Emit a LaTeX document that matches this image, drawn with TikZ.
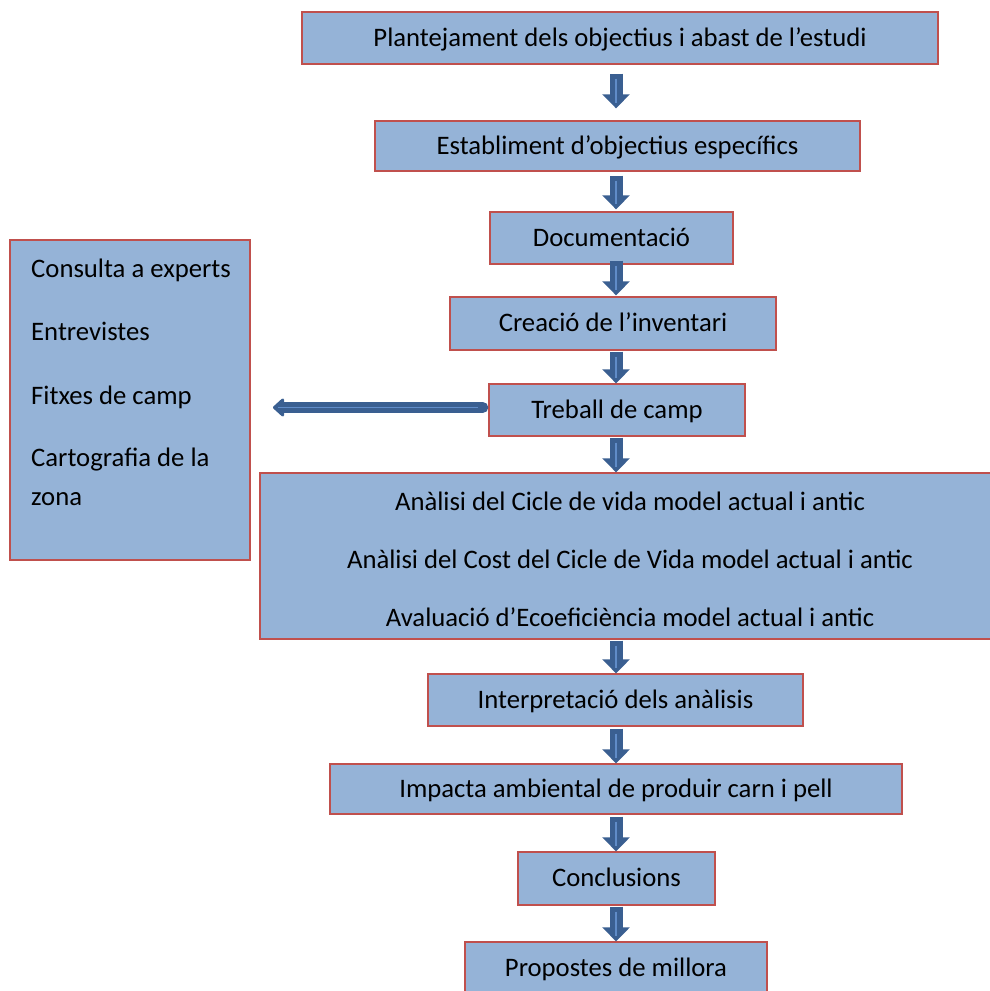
\documentclass[tikz,border=0pt]{standalone}
\usepackage{fontspec}
\setmainfont{Carlito}
\usetikzlibrary{arrows.meta,calc}
\definecolor{boxfill}{RGB}{149,179,215}
\definecolor{boxline}{RGB}{192,80,77}
\definecolor{arrdark}{RGB}{58,95,145}
\definecolor{arrlight}{RGB}{96,140,200}
\newcommand{\bodyfont}{\fontsize{26.7}{32}\selectfont}
\newcommand{\blockdown}[4]{%
  \draw[darr] ($(#1.south -| ax)+(0,#3)$) -- ($(#2.north -| ax)+(0,#4)$);
  \draw[hl] ($(#1.south -| ax)+(0,#3)$) -- ($(#2.north -| ax)+(0,#4)$);}
\begin{document}
\begin{tikzpicture}[x=1pt,y=-1pt,
  box/.style={draw=boxline, line width=1.4pt, fill=boxfill, inner sep=0pt,
    text height=16.9pt, text depth=0pt, font=\bodyfont},
  lbl/.style={inner sep=0pt, anchor=base, font=\bodyfont},
  darr/.style={line width=13pt, draw=arrdark, -{Triangle[width=27pt,length=14pt]}},
  hl/.style={line width=1.6pt, draw=arrlight, shorten <=5pt, shorten >=5pt},
  larr/.style={line width=11pt, draw=arrdark, line cap=round, -{Triangle[width=21pt,length=12pt,round]}}
]
\useasboundingbox (0,0) rectangle (989,991);
\coordinate (ax) at (616,0);

% boxes
\node[box, minimum width=636pt, minimum height=52pt] (b1) at (620,38) {Plantejament dels objectius i abast de l’estudi};
\node[box, minimum width=485pt, minimum height=50pt] (b2) at (617.5,146) {Establiment d’objectius específics};
\node[box, minimum width=243pt, minimum height=52pt] (b3) at (611.5,238) {Documentació};
\node[box, minimum width=326pt, minimum height=53pt] (b4) at (613,323.5) {Creació de l’inventari};
\node[box, minimum width=256pt, minimum height=52pt] (b5) at (617,410) {Treball de camp};
\node[box, minimum width=740pt, minimum height=166pt] (b6) at (630,556) {};
\node[lbl] (t61) at (630,510.5) {Anàlisi del Cicle de vida model actual i antic};
\node[lbl] (t62) at (630,568.5) {Anàlisi del Cost del Cicle de Vida model actual i antic};
\node[lbl] (t63) at (630,626.5) {Avaluació d’Ecoeficiència model actual i antic};
\node[box, minimum width=375pt, minimum height=52pt] (b7) at (615.5,700) {Interpretació dels anàlisis};
\node[box, minimum width=572pt, minimum height=50pt] (b8) at (616,789) {Impacta ambiental de produir carn i pell};
\node[box, minimum width=197pt, minimum height=53pt] (b9) at (616.5,878.5) {Conclusions};
\node[box, minimum width=302pt, minimum height=52pt] (b10) at (616,968) {Propostes de millora};

% left box
\node[box, minimum width=240pt, minimum height=320pt] (lb) at (130,400) {};
\node[lbl, anchor=base west] (l1) at (31,277) {Consulta a experts};
\node[lbl, anchor=base west] (l2) at (31,340.5) {Entrevistes};
\node[lbl, anchor=base west] (l3) at (31,404) {Fitxes de camp};
\node[lbl, anchor=base west] (l4) at (31,466) {Cartografia de la};
\node[lbl, anchor=base west] (l5) at (31,505) {zona};

% down arrows
\blockdown{b1}{b2}{9}{-12}
\blockdown{b2}{b3}{4}{-2}
\blockdown{b3}{b4}{-4}{-1}
\blockdown{b4}{b5}{1}{0}
\blockdown{b5}{b6}{1}{0}
\blockdown{b6}{b7}{1}{0}
\blockdown{b7}{b8}{2}{0}
\blockdown{b8}{b9}{2}{0}
\blockdown{b9}{b10}{1}{0}

% left arrow
\coordinate (lt) at (273,407.5);
\draw[larr] ($(b5.west |- lt)+(-5.5,0)$) -- (lt);
\draw[hl] ($(b5.west |- lt)+(-5.5,0)$) -- (lt);
\end{tikzpicture}
\end{document}
